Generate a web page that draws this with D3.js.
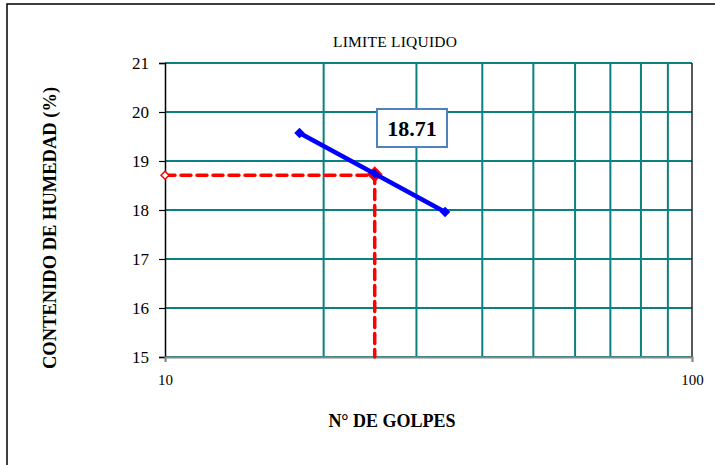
<!DOCTYPE html>
<html><head><meta charset="utf-8">
<script src="https://cdn.jsdelivr.net/npm/d3@7"></script>
<style>body{margin:0;background:#fff}svg{display:block}
text{font-family:"Liberation Serif","DejaVu Serif","Times New Roman",serif}</style>
</head><body><svg id="c" width="715" height="465"></svg>
<script>
const golpes = [18, 25, 34];
const humedad = [19.57, 18.74, 17.96];
const liquidLimit = 18.71;
const blowsAt = 25;
const yTicks = [15, 16, 17, 18, 19, 20, 21];
const xGrid = [20, 30, 40, 50, 60, 70, 80, 90];
const xTickLabels = [10, 100];

const svg = d3.select("#c");
const L = 165, R = 692, T = 63, B = 357;
const x = d3.scaleLog().domain([10, 100]).range([L, R]);
const y = d3.scaleLinear().domain([15, 21]).range([B, T]);
const serif = '"Liberation Serif","DejaVu Serif",serif';
const teal = "#0a8080";

// outer border
svg.append("rect").attr("x", 7).attr("y", 4).attr("width", 720).attr("height", 480)
  .attr("fill", "none").attr("stroke", "#000").attr("stroke-width", 1.5);

svg.append("text").attr("x", 395).attr("y", 47).attr("text-anchor", "middle")
  .style("font-family", serif).attr("font-size", 15.5).attr("textLength", 124).text("LIMITE LIQUIDO");

// grid
const g = svg.append("g");
g.selectAll(".hg").data(yTicks).join("line")
  .attr("x1", L).attr("x2", R).attr("y1", d => y(d)).attr("y2", d => y(d))
  .attr("stroke", teal).attr("stroke-width", 2);
g.selectAll(".vg").data(xGrid).join("line")
  .attr("x1", d => x(d)).attr("x2", d => x(d)).attr("y1", T).attr("y2", B)
  .attr("stroke", teal).attr("stroke-width", 2);
g.append("line").attr("x1", R).attr("x2", R).attr("y1", T).attr("y2", B)
  .attr("stroke", "#222").attr("stroke-width", 1.5);

// y axis
const ya = svg.append("g").attr("transform", `translate(${L},0)`)
  .call(d3.axisLeft(y).tickValues(yTicks).tickSize(6).tickPadding(10).tickFormat(d3.format("d")));
ya.select(".domain").attr("stroke", "#000").attr("stroke-width", 1.5);
ya.selectAll(".tick line").attr("stroke", "#000").attr("stroke-width", 1.2);
ya.selectAll("text").style("font-family", serif).attr("font-size", 17).attr("fill", "#000");

// x axis
const xa = svg.append("g").attr("transform", `translate(0,${B})`)
  .call(d3.axisBottom(x).tickValues(xTickLabels).tickSize(5).tickPadding(12).tickFormat(d3.format("d")));
xa.select(".domain").attr("stroke", "#888").attr("stroke-width", 2);
xa.selectAll(".tick line").attr("stroke", "#888").attr("stroke-width", 1.5);
xa.selectAll("text").style("font-family", serif).attr("font-size", 15).attr("fill", "#000");

// axis titles
svg.append("text").attr("x", 392).attr("y", 427).attr("text-anchor", "middle")
  .style("font-family", serif).attr("font-weight", "bold").attr("font-size", 18).text("N° DE GOLPES");
svg.append("text").attr("transform", "translate(56,228) rotate(-90)").attr("text-anchor", "middle")
  .style("font-family", serif).attr("font-weight", "bold").attr("font-size", 18.5).text("CONTENIDO DE HUMEDAD (%)");

// red dashed guide
const guide = [[10, liquidLimit], [blowsAt, liquidLimit], [blowsAt, 15]];
const ln = d3.line().x(d => x(d[0])).y(d => y(d[1]));
svg.append("path").attr("d", ln(guide)).attr("fill", "none").attr("stroke", "#ff0000")
  .attr("stroke-width", 3.5).attr("stroke-dasharray", "10,6").attr("stroke-linecap", "round");
svg.append("path").attr("d", d3.symbol(d3.symbolDiamond2, 40)())
  .attr("transform", `translate(${x(10)},${y(liquidLimit)})`)
  .attr("fill", "#fff").attr("stroke", "#ff0000").attr("stroke-width", 1.5);

// blue line
const pts = golpes.map((d, i) => [d, humedad[i]]);
svg.append("path").attr("d", d3.symbol(d3.symbolDiamond2, 160)())
  .attr("transform", `translate(${x(blowsAt)},${y(liquidLimit) - 1})`).attr("fill", "#ff0000");
svg.append("path").attr("d", ln(pts)).attr("fill", "none").attr("stroke", "#0000ff").attr("stroke-width", 4.5);
svg.selectAll(".bm").data([pts[0], pts[2]]).join("path")
  .attr("d", d3.symbol(d3.symbolDiamond2, 70)())
  .attr("transform", d => `translate(${x(d[0])},${y(d[1])})`).attr("fill", "#0000ff");
svg.append("path").attr("d", d3.symbol(d3.symbolDiamond2, 60)())
  .attr("transform", `translate(${x(pts[1][0])},${y(pts[1][1])})`).attr("fill", "#0000ff");

// label
svg.append("rect").attr("x", 377).attr("y", 109).attr("width", 70).attr("height", 38)
  .attr("fill", "#fff").attr("stroke", "#4f81bd").attr("stroke-width", 2);
svg.append("text").attr("x", 412).attr("y", 136).attr("text-anchor", "middle")
  .style("font-family", serif).attr("font-weight", "bold").attr("font-size", 22).text(d3.format(".2f")(liquidLimit));
</script></body></html>
